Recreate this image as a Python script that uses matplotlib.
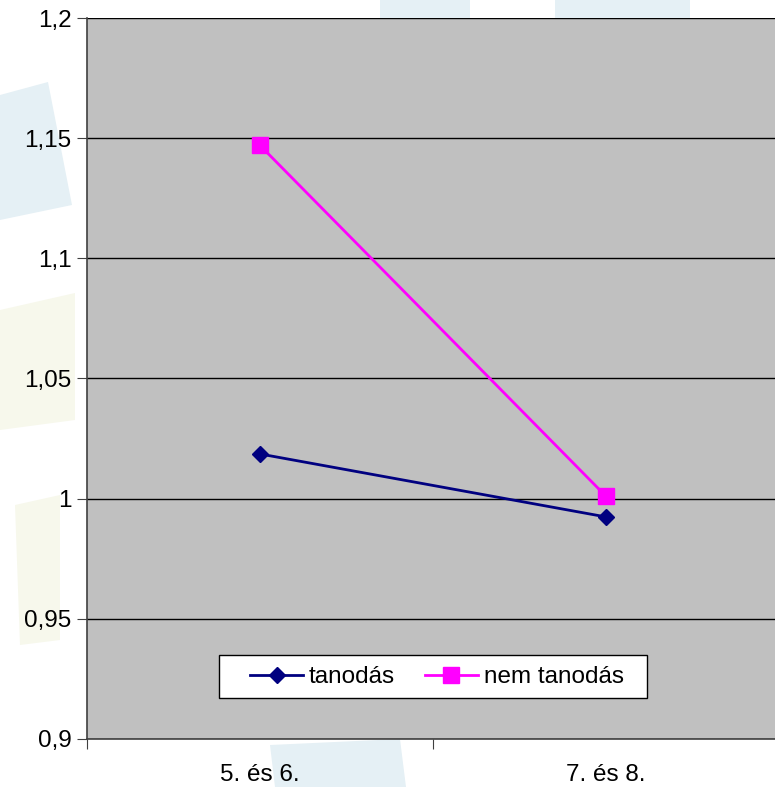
import matplotlib
matplotlib.use("Agg")
import matplotlib.pyplot as plt
from matplotlib.patches import Polygon, Rectangle
from matplotlib.lines import Line2D

categories = ["5. és 6.", "7. és 8."]
tanodas = [1.0186, 0.9924]
nem_tanodas = [1.147, 1.001]
yticks = [0.9, 0.95, 1.0, 1.05, 1.1, 1.15, 1.2]
ytick_labels = ["0,9", "0,95", "1", "1,05", "1,1", "1,15", "1,2"]

plt.rcParams['font.family'] = ['Liberation Sans', 'DejaVu Sans']

W, H = 775, 787
fig = plt.figure(figsize=(W / 100, H / 100), dpi=100)
fig.patch.set_facecolor("white")

# faint decorative background shapes (watermark)
def fpoly(pts, color):
    p = Polygon([(x / W, 1 - y / H) for x, y in pts], closed=True,
                transform=fig.transFigure, facecolor=color, edgecolor="none", zorder=-5)
    fig.patches.append(p)

fpoly([(0, 95), (48, 82), (72, 205), (0, 220)], "#e5f0f5")
fpoly([(0, 310), (75, 293), (75, 420), (0, 430)], "#f7f8ec")
fpoly([(15, 505), (60, 495), (60, 640), (20, 645)], "#f7f8ec")
fpoly([(275, 787), (270, 745), (400, 739), (406, 787)], "#e5f0f5")
fpoly([(380, 0), (470, 0), (470, 18), (380, 18)], "#e5f0f5")
fpoly([(555, 0), (690, 0), (690, 18), (555, 18)], "#e5f0f5")

left, right, top, bottom = 87, 779, 18, 739
ax = fig.add_axes([left / W, 1 - bottom / H, (right - left) / W, (bottom - top) / H])
ax.set_zorder(2)
ax.set_facecolor("#c0c0c0")

FS = 17.5
x = [0.5, 1.5]
ax.plot(x, tanodas, color="#000080", marker="D", markersize=8, linewidth=2, zorder=3)
ax.plot(x, nem_tanodas, color="#ff00ff", marker="s", markersize=11, linewidth=2, zorder=3)

ax.set_xlim(0, 2)
ax.set_ylim(0.9, 1.2)
ax.set_yticks(yticks)
ax.set_yticklabels(ytick_labels, fontsize=FS)
ax.yaxis.grid(True, color="black", linewidth=1)
ax.set_axisbelow(True)

ax.set_xticks([0, 1, 2])
ax.set_xticklabels([])
ax.set_xticks(x, minor=True)
ax.set_xticklabels(categories, minor=True, fontsize=FS)
ax.tick_params(axis="x", which="minor", length=0, pad=18)
ax.tick_params(axis="x", which="major", length=7, direction="out", color="#404040")
ax.tick_params(axis="y", length=7, direction="out", color="#404040", pad=4)

for s in ["top", "right"]:
    ax.spines[s].set_visible(False)
for s in ["left", "bottom"]:
    ax.spines[s].set_color("#404040")
    ax.spines[s].set_linewidth(1.2)

# legend box
box = Rectangle((219 / W, 1 - 698 / H), (647 - 219) / W, (698 - 655) / H,
                transform=fig.transFigure, facecolor="white", edgecolor="black",
                linewidth=1, zorder=4)
ax.add_artist(box)
box.set_clip_on(False)

handles = [
    Line2D([], [], color="#000080", marker="D", markersize=8, linewidth=2),
    Line2D([], [], color="#ff00ff", marker="s", markersize=11, linewidth=2),
]
leg = ax.legend(handles, ["tanodás", "nem tanodás"], ncol=2, fontsize=FS,
                loc="center", bbox_to_anchor=((437 - left) / (right - left), 1 - (677 - top) / (bottom - top)),
                frameon=False, handlelength=2.15, handletextpad=0.25, columnspacing=1.25,
                borderpad=0.2, borderaxespad=0)
leg.set_zorder(5)

fig.savefig("out.png", dpi=100)
